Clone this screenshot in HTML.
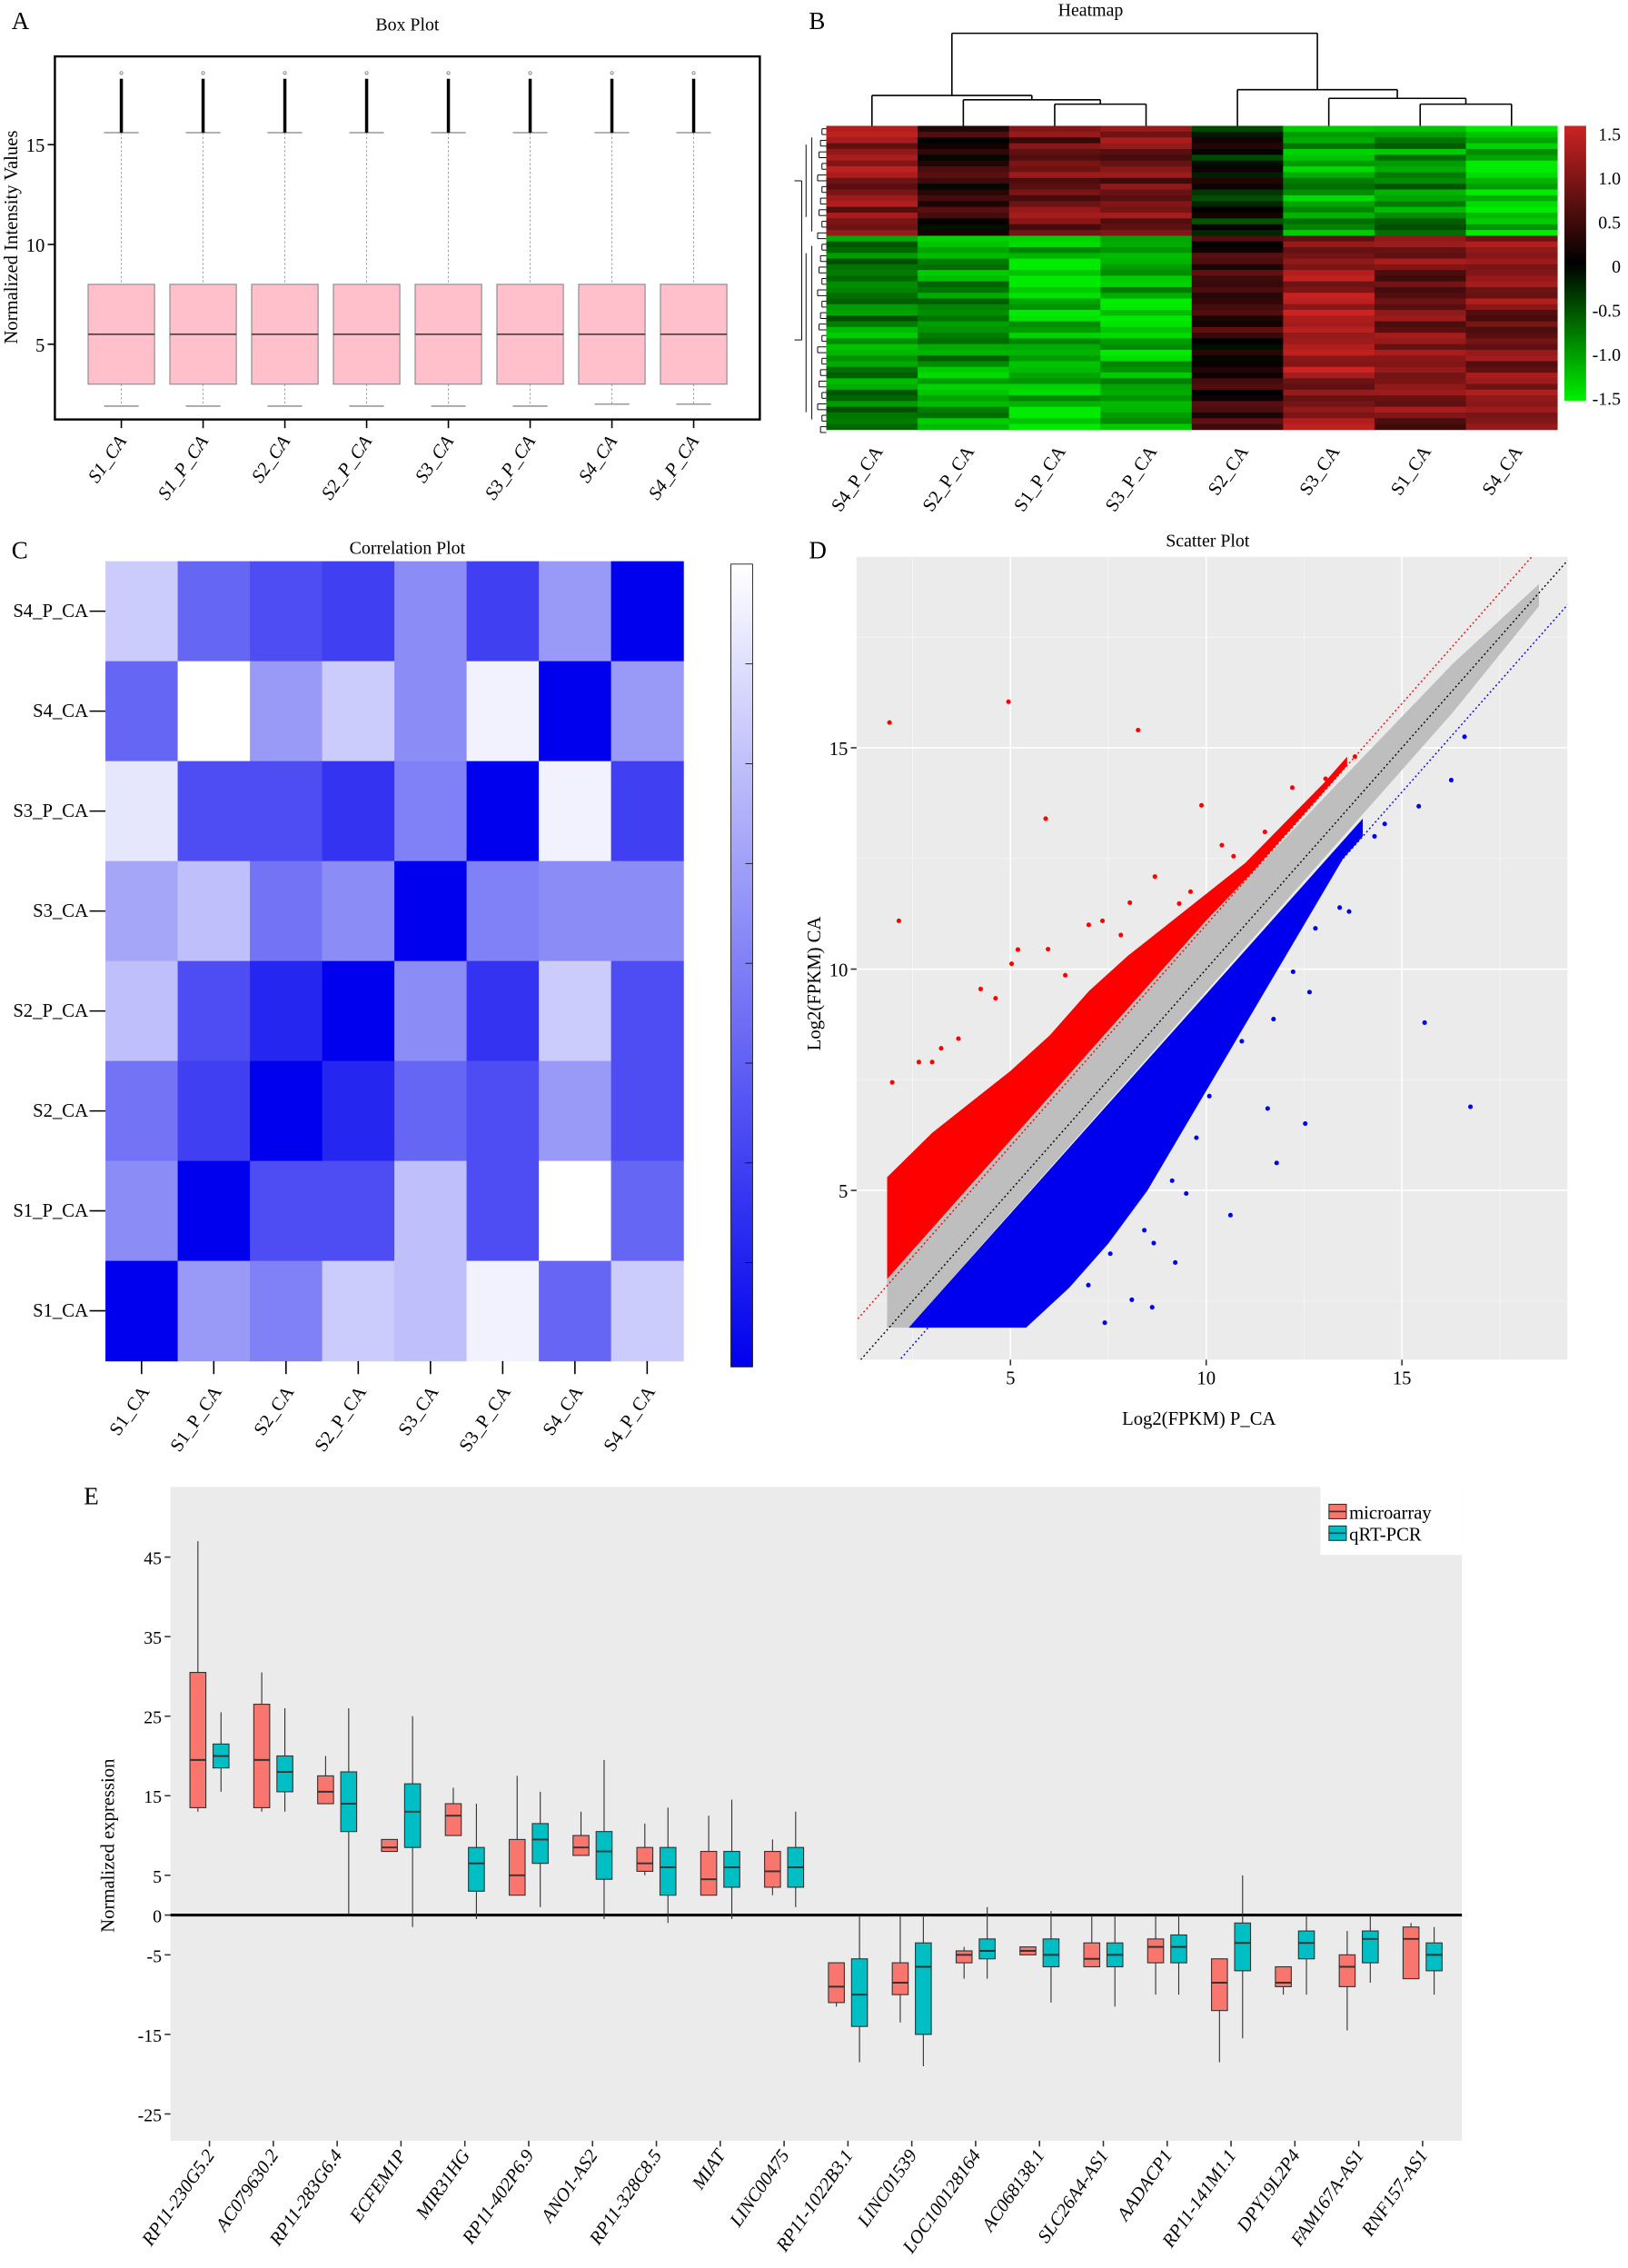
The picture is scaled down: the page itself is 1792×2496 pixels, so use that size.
<!DOCTYPE html>
<html><head><meta charset="utf-8"><style>
html,body{margin:0;padding:0;background:#fff;}
svg{display:block;font-family:"Liberation Serif",serif;}
</style></head><body>
<svg id="root" width="1792" height="2496" viewBox="0 0 1127 1568" preserveAspectRatio="none" xmlns="http://www.w3.org/2000/svg">
<rect width="1127" height="1568" fill="#fff"/>
<g id="pA"></g>
<g id="pB"></g>
<g id="pC"></g>
<g id="pD"></g>
<g id="pE"></g>
</svg>
<script>
const NS="http://www.w3.org/2000/svg";
function mk(p,t,a,txt){const e=document.createElementNS(NS,t);for(const k in a)e.setAttribute(k,a[k]);if(txt!==undefined)e.textContent=txt;p.appendChild(e);return e;}

// ---------- Panel A data ----------
const boxSamples=["S1_CA","S1_P_CA","S2_CA","S2_P_CA","S3_CA","S3_P_CA","S4_CA","S4_P_CA"];
const boxQ1=[3.0,3.0,3.0,3.0,3.0,3.0,3.0,3.0];
const boxMed=[5.5,5.5,5.5,5.5,5.5,5.5,5.5,5.5];
const boxQ3=[8.0,8.0,8.0,8.0,8.0,8.0,8.0,8.0];
const boxLo=[1.9,1.9,1.9,1.9,1.9,1.9,2.0,2.0];
const boxHi=[15.6,15.6,15.6,15.6,15.6,15.6,15.6,15.6];
const boxOutMax=[18.3,18.3,18.3,18.3,18.3,18.3,18.3,18.3];
const boxYTicks=[5,10,15];

// ---------- Panel B data ----------
const hmCols=["S4_P_CA","S2_P_CA","S1_P_CA","S3_P_CA","S2_CA","S3_CA","S1_CA","S4_CA"];
const hmTopMean=[1.0,0.25,0.8,0.85,-0.15,-1.1,-0.9,-1.3];
const hmBotMean=[-0.9,-1.0,-1.25,-1.2,0.3,1.1,0.85,0.9];
const hmRowNoise=[0.3,-0.2,0.1,0.4,-0.35,0.0,0.2,-0.1,0.35,-0.3,0.15,-0.25,0.05,0.3,-0.15,0.25,-0.4,0.1,-0.05,0.2,-0.3,0.4,-0.1,0.0,0.25,-0.2];
const hmScaleTicks=[1.5,1.0,0.5,0,-0.5,-1.0,-1.5];

// ---------- Panel C data ----------
const corRows=["S4_P_CA","S4_CA","S3_P_CA","S3_CA","S2_P_CA","S2_CA","S1_P_CA","S1_CA"];
const corCols=["S1_CA","S1_P_CA","S2_CA","S2_P_CA","S3_CA","S3_P_CA","S4_CA","S4_P_CA"];
const corR1=[.2,.6,.7,.75,.45,.75,.4,1];
const corR2=[.6,0,.4,.2,.45,.05,1,.4];
const corR3=[.1,.7,.7,.8,.5,1,.05,.75];
const corR4=[.35,.25,.55,.45,1,.5,.45,.45];
const corR5=[.25,.7,.85,1,.45,.8,.2,.7];
const corR6=[.55,.75,1,.85,.6,.7,.4,.7];
const corR7=[.45,1,.7,.7,.25,.7,0,.6];
const corR8=[1,.4,.5,.2,.25,.05,.6,.2];

// ---------- Panel D data ----------
const scXTicks=[5,10,15];
const scYTicks=[5,10,15];
const grayBandX=[1.85,1.85,10,16.3,18.5,18.5,16.3,10,2.4];
const grayBandY=[1.9,3.0,11.1,16.9,18.7,18.2,15.8,9.5,1.9];
const redCloudX=[1.85,1.85,3,4,5,6,7,8,9,10,11,12,13,13.6,13.6,1.85];
const redCloudY=[2.95,5.3,6.3,7.0,7.7,8.5,9.5,10.3,11.0,11.7,12.4,13.3,14.2,14.8,14.6,2.9];
const blueCloudX=[2.4,14,14,13.5,12.5,11.5,10.5,9.5,8.5,7.5,6.5,5.4];
const blueCloudY=[1.9,13.4,13.0,12.5,11.0,9.5,8.0,6.5,5.0,3.8,2.8,1.9];
const redOutX=[1.91,4.95,8.26,5.9,9.88,2.15,12.2,13.8,13.05,11.5,10.4,10.7,8.69,9.6,8.05,7.0,7.35,5.19,5.96,5.03,4.24,4.62,3.67,2.66,3.0,1.98,3.23,6.4,7.82,9.31,11.27];
const redOutY=[15.57,16.04,15.4,13.4,13.7,11.09,14.1,14.8,14.3,13.1,12.8,12.55,12.09,11.75,11.5,11.0,11.09,10.44,10.45,10.12,9.55,9.34,8.43,7.9,7.9,7.44,8.21,9.86,10.77,11.48,12.48];
const blueOutX=[16.6,16.26,15.43,15.58,16.75,11.57,12.53,11.8,10.62,12.64,13.41,13.65,12.22,11.72,10.91,10.08,9.75,9.49,8.66,9.21,8.62,7.41,8.1,6.99,7.55,8.42,8.12,9.13,8.38,10.2,12.79,14.3,14.56];
const blueOutY=[15.25,14.27,13.68,8.79,6.89,6.85,6.51,5.62,4.44,9.48,11.39,11.3,9.94,8.87,8.37,7.13,6.19,4.93,3.81,3.37,2.36,2.01,2.53,2.86,3.57,4.1,5.4,5.22,5.75,7.76,10.92,13.0,13.28];

// ---------- Panel E data ----------
const genes=["RP11-230G5.2","AC079630.2","RP11-283G6.4","ECFEM1P","MIR31HG","RP11-402P6.9","ANO1-AS2","RP11-328C8.5","MIAT","LINC00475","RP11-1022B3.1","LINC01539","LOC100128164","AC068138.1","SLC26A4-AS1","AADACP1","RP11-141M1.1","DPY19L2P4","FAM167A-AS1","RNF157-AS1"];
const maQ1=[13.5,13.5,14,8,10,2.5,7.5,5.5,2.5,3.5,-11,-10,-6,-5,-6.5,-6,-12,-9,-9,-8];
const maMed=[19.5,19.5,15.5,8.5,12.5,5,8.5,6.5,4.5,5.5,-9,-8.5,-5,-4.5,-5.5,-4,-8.5,-8.5,-6.5,-3];
const maQ3=[30.5,26.5,17.5,9.5,14,9.5,10,8.5,8,8,-6,-6,-4.5,-4,-3.5,-3,-5.5,-6.5,-5,-1.5];
const maLo=[13,13,14,8,10,2.5,7.5,5,2.5,2.5,-11.5,-13.5,-8,-5,-6.5,-10,-18.5,-10,-14.5,-8];
const maHi=[47,30.5,20,9.5,16,17.5,13,11.5,12.5,9.5,-6,0,-4,-4,0,0,-5.5,-6.5,-2,-1];
const pcQ1=[18.5,15.5,10.5,8.5,3,6.5,4.5,2.5,3.5,3.5,-14,-15,-5.5,-6.5,-6.5,-6,-7,-5.5,-6,-7];
const pcMed=[20,18,14,13,6.5,9.5,8,6,6,6,-10,-6.5,-4.5,-5,-5,-4,-3.5,-3.5,-3,-5];
const pcQ3=[21.5,20,18,16.5,8.5,11.5,10.5,8.5,8,8.5,-5.5,-3.5,-3,-3,-3.5,-2.5,-1,-2,-2,-3.5];
const pcLo=[15.5,13,0,-1.5,-0.5,1,-0.5,-1,-0.5,1,-18.5,-19,-8,-11,-11.5,-10,-15.5,-10,-8.5,-10];
const pcHi=[25.5,26,26,25,14,15.5,19.5,13.5,14.5,13,0,0,1,0.5,0,0,5,0,0,-1.5];
const eYTicks=[45,35,25,15,5,0,-5,-15,-25];

// ===== Panel A =====
(function(){
 const g=document.getElementById('pA');
 const y=v=>238-(v-5)*13.8;
 const x0=84,dx=56.6;
 mk(g,'text',{x:8,y:20,'font-size':17,},'A');
 mk(g,'text',{x:282,y:21,'font-size':12.5,'text-anchor':'middle',},'Box Plot');
 mk(g,'rect',{x:38,y:39,width:488,height:251,fill:'none',stroke:'#000','stroke-width':1.5,});
 boxYTicks.forEach(v=>{
  mk(g,'line',{x1:33,x2:38,y1:y(v),y2:y(v),stroke:'#000'});
  const t=mk(g,'text',{x:31,y:y(v)+5,'font-size':13,'text-anchor':'end'},String(v));
  
 });
 mk(g,'text',{x:0,y:0,'font-size':13,'text-anchor':'middle',transform:'translate(12,164) rotate(-90)',},'Normalized Intensity Values');
 boxSamples.forEach((s,i)=>{
  const cx=x0+i*dx;
  const bg=mk(g,'g',{});
  
  
  mk(bg,'line',{x1:cx,x2:cx,y1:y(boxHi[i]),y2:y(boxQ3[i]),stroke:'#999','stroke-dasharray':'1.5,1.5','stroke-width':0.6});
  mk(bg,'line',{x1:cx,x2:cx,y1:y(boxQ1[i]),y2:y(boxLo[i]),stroke:'#999','stroke-dasharray':'1.5,1.5','stroke-width':0.6});
  mk(bg,'line',{x1:cx-12,x2:cx+12,y1:y(boxHi[i]),y2:y(boxHi[i]),stroke:'#999'});
  mk(bg,'line',{x1:cx-12,x2:cx+12,y1:y(boxLo[i]),y2:y(boxLo[i]),stroke:'#999'});
  mk(bg,'line',{x1:cx,x2:cx,y1:y(boxOutMax[i]),y2:y(boxHi[i]),stroke:'#000','stroke-width':2.2});
  mk(bg,'circle',{cx:cx,cy:y(boxOutMax[i])-4,r:1,fill:'none',stroke:'#777','stroke-width':0.5});
  mk(bg,'rect',{x:cx-23,y:y(boxQ3[i]),width:46,height:y(boxQ1[i])-y(boxQ3[i]),fill:'#ffc0cb',stroke:'#888','stroke-width':0.7});
  mk(bg,'line',{x1:cx-23,x2:cx+23,y1:y(boxMed[i]),y2:y(boxMed[i]),stroke:'#333','stroke-width':1});
  mk(g,'line',{x1:cx,x2:cx,y1:290,y2:296,stroke:'#000'});
  const t=mk(g,'text',{x:0,y:0,'font-size':13,'font-style':'italic','text-anchor':'end',transform:`translate(${cx+4},${305}) rotate(-55)`},s);
  
 });
})();

// ===== Panel B =====
(function(){
 const g=document.getElementById('pB');
 mk(g,'text',{x:560,y:20,'font-size':17,},'B');
 mk(g,'text',{x:755,y:11,'font-size':12.5,'text-anchor':'middle',},'Heatmap');
 const X0=572,W=63.25,yTop=87,yMid=163,yBot=297;
 function col(v){v=Math.max(-1.5,Math.min(1.5,v));
  if(v>=0){const f=v/1.5;return `rgb(${Math.round(205*f)},${Math.round(35*f)},${Math.round(35*f)})`;}
  const f=-v/1.5;return `rgb(0,${Math.round(235*f)},0)`;}
 const nTop=19,nBot=34;
 const rh1=(yMid-yTop)/nTop, rh2=(yBot-yMid)/nBot;
 hmCols.forEach((c,j)=>{
  for(let r=0;r<nTop;r++){
   const v=hmTopMean[j]+hmRowNoise[(r*3+j*5)%hmRowNoise.length];
   const e=mk(g,'rect',{x:X0+j*W,y:yTop+r*rh1,width:W+0.3,height:rh1+0.3,fill:col(v)});
   
  }
  for(let r=0;r<nBot;r++){
   const v=hmBotMean[j]+hmRowNoise[(r*7+j*3+1)%hmRowNoise.length];
   const e=mk(g,'rect',{x:X0+j*W,y:yMid+r*rh2,width:W+0.3,height:rh2+0.3,fill:col(v)});
   
  }
  const cx=X0+j*W+W/2;
  const t=mk(g,'text',{x:0,y:0,'font-size':13,'text-anchor':'end',transform:`translate(${cx+8},${312}) rotate(-55)`},c);
  
 });
 const cxs=hmCols.map((c,j)=>X0+j*W+W/2);
 const d=mk(g,'g',{stroke:'#000','stroke-width':1,fill:'none',});
 const seg=(x1,y1,x2,y2)=>mk(d,'line',{x1,y1,x2,y2});
 const u=(xa,ya,xb,yb,yt)=>{seg(xa,ya,xa,yt);seg(xb,yb,xb,yt);seg(xa,yt,xb,yt);return [(xa+xb)/2,yt];};
 const a34=u(cxs[2],yTop,cxs[3],yTop,72);
 const a234=u(cxs[1],yTop,a34[0],72,69);
 const aL=u(cxs[0],yTop,a234[0],69,66);
 const a78=u(cxs[6],yTop,cxs[7],yTop,72);
 const a678=u(cxs[5],yTop,a78[0],72,68);
 const aR=u(cxs[4],yTop,a678[0],68,62);
 u(aL[0],66,aR[0],62,23);
 const ld=mk(g,'g',{stroke:'#000','stroke-width':0.6,fill:'none',});
 for(let r=0;r<nTop+nBot;r+=2){
  const yy=r<nTop?yTop+r*rh1+rh1:yMid+(r-nTop)*rh2+rh2;
  const depth=[3,6,4,9,5,7,3,10,6,4][r%10];
  mk(ld,'line',{x1:572-depth,y1:yy-2,x2:572,y2:yy-2});
  mk(ld,'line',{x1:572-depth,y1:yy-2,x2:572-depth,y2:yy+2});
  mk(ld,'line',{x1:572-depth,y1:yy+2,x2:572,y2:yy+2});
 }
 mk(ld,'line',{x1:562,y1:95,x2:562,y2:160});mk(ld,'line',{x1:558,y1:100,x2:558,y2:150});
 mk(ld,'line',{x1:562,y1:170,x2:562,y2:290});mk(ld,'line',{x1:558,y1:175,x2:558,y2:285});
 mk(ld,'line',{x1:555,y1:125,x2:555,y2:235});
 mk(ld,'line',{x1:550,y1:125,x2:555,y2:125});mk(ld,'line',{x1:550,y1:235,x2:555,y2:235});
 const gr=mk(g,'defs',{});
 const lg=mk(gr,'linearGradient',{id:'hmg',x1:0,y1:0,x2:0,y2:1});
 [[0,'rgb(205,35,35)'],[0.5,'#000'],[1,'rgb(0,240,0)']].forEach(s=>mk(lg,'stop',{offset:s[0],'stop-color':s[1]}));
 mk(g,'rect',{x:1083,y:87,width:15,height:190,fill:'url(#hmg)',});
 hmScaleTicks.forEach(v=>{
  const yy=87+ (1.5-v)/3*183+6;
  const t=mk(g,'text',{x:1122,y:yy+4,'font-size':12.5,'text-anchor':'end'},String(v===0?'0':(Number.isInteger(v)?v.toFixed(1):v)));
  
 });
})();

// ===== Panel C =====
(function(){
 const g=document.getElementById('pC');
 mk(g,'text',{x:8,y:386,'font-size':17,},'C');
 mk(g,'text',{x:282,y:383,'font-size':12.5,'text-anchor':'middle',},'Correlation Plot');
 const rows=[corR1,corR2,corR3,corR4,corR5,corR6,corR7,corR8];
 const X0=73,Y0=388,W=50,H=69.1;
 const c=v=>`rgb(${Math.round(255*(1-v))},${Math.round(255*(1-v))},${Math.round(255-17*v)})`;
 rows.forEach((r,i)=>{
  r.forEach((v,j)=>{
   const e=mk(g,'rect',{x:X0+j*W,y:Y0+i*H,width:W+0.4,height:H+0.4,fill:c(v)});
   
  });
  const yy=Y0+i*H+H/2;
  mk(g,'line',{x1:62,x2:73,y1:yy,y2:yy,stroke:'#000'});
  const t=mk(g,'text',{x:61,y:yy+4,'font-size':13,'text-anchor':'end'},corRows[i]);
  
 });
 corCols.forEach((s,j)=>{
  const cx=X0+j*W+W/2;
  mk(g,'line',{x1:cx,x2:cx,y1:941,y2:950,stroke:'#000'});
  const t=mk(g,'text',{x:0,y:0,'font-size':13,'text-anchor':'end',transform:`translate(${cx+6},${962}) rotate(-55)`},s);
  
 });
 const df=mk(g,'defs',{});
 const lg=mk(df,'linearGradient',{id:'cg',x1:0,y1:0,x2:0,y2:1});
 mk(lg,'stop',{offset:0,'stop-color':'#fff'});mk(lg,'stop',{offset:1,'stop-color':'#0000ee'});
 mk(g,'rect',{x:506,y:390,width:15,height:555,fill:'url(#cg)',stroke:'#000','stroke-width':0.5,});
 for(let k=1;k<8;k++){mk(g,'line',{x1:516,x2:521,y1:390+k*69,y2:390+k*69,stroke:'#000','stroke-width':0.5});}
})();

// ===== Panel D =====
(function(){
 const g=document.getElementById('pD');
 mk(g,'text',{x:560,y:386,'font-size':17,},'D');
 mk(g,'text',{x:836,y:378,'font-size':12.5,'text-anchor':'middle',},'Scatter Plot');
 const L=593,R=1085,T=385,B=940;
 const x=v=>564+v*27.1, y=v=>976-v*30.6;
 mk(g,'rect',{x:L,y:T,width:R-L,height:B-T,fill:'#ebebeb',});
 const cl=mk(g,'clipPath',{id:'dclip'});mk(cl,'rect',{x:L,y:T,width:R-L,height:B-T});
 const pg=mk(g,'g',{'clip-path':'url(#dclip)'});
 [2.5,7.5,12.5,17.5].forEach(v=>{mk(pg,'line',{x1:x(v),x2:x(v),y1:T,y2:B,stroke:'#f7f7f7','stroke-width':0.5});mk(pg,'line',{x1:L,x2:R,y1:y(v),y2:y(v),stroke:'#f7f7f7','stroke-width':0.5});});
 scXTicks.forEach(v=>mk(pg,'line',{x1:x(v),x2:x(v),y1:T,y2:B,stroke:'#fff','stroke-width':1}));
 scYTicks.forEach(v=>mk(pg,'line',{x1:L,x2:R,y1:y(v),y2:y(v),stroke:'#fff','stroke-width':1}));
 const poly=(xs,ys,fill,name)=>{const e=mk(pg,'polygon',{points:xs.map((v,i)=>x(v)+','+y(ys[i])).join(' '),fill:fill});};
 poly(redCloudX,redCloudY,'#ff0000','up-regulated-cloud');
 poly(blueCloudX,blueCloudY,'#0000ee','down-regulated-cloud');
 poly(grayBandX,grayBandY,'#bebebe','unchanged-band');
 redOutX.forEach((v,i)=>{const e=mk(pg,'circle',{cx:x(v),cy:y(redOutY[i]),r:1.6,fill:'#ff0000'});});
 blueOutX.forEach((v,i)=>{const e=mk(pg,'circle',{cx:x(v),cy:y(blueOutY[i]),r:1.6,fill:'#0000ee'});});
 mk(pg,'line',{x1:x(0),y1:y(0),x2:x(20),y2:y(20),stroke:'#000','stroke-dasharray':'1.2,1.8','stroke-width':0.9,});
 mk(pg,'line',{x1:x(0),y1:y(1),x2:x(20),y2:y(21),stroke:'#ff0000','stroke-dasharray':'1.2,1.8','stroke-width':0.9,});
 mk(pg,'line',{x1:x(0),y1:y(-1),x2:x(20),y2:y(19),stroke:'#0000ee','stroke-dasharray':'1.2,1.8','stroke-width':0.9,});
 scXTicks.forEach(v=>{mk(g,'line',{x1:x(v),x2:x(v),y1:B,y2:B+4,stroke:'#333'});const t=mk(g,'text',{x:x(v),y:B+17,'font-size':13,'text-anchor':'middle'},String(v));});
 scYTicks.forEach(v=>{mk(g,'line',{x1:L-4,x2:L,y1:y(v),y2:y(v),stroke:'#333'});const t=mk(g,'text',{x:L-6,y:y(v)+5,'font-size':13,'text-anchor':'end'},String(v));});
 mk(g,'text',{x:830,y:985,'font-size':13,'text-anchor':'middle',},'Log2(FPKM) P_CA');
 mk(g,'text',{x:0,y:0,'font-size':13,'text-anchor':'middle',transform:'translate(568,680) rotate(-90)',},'Log2(FPKM) CA');
})();

// ===== Panel E =====
(function(){
 const g=document.getElementById('pE');
 mk(g,'text',{x:58,y:1040,'font-size':17,},'E');
 const L=118,R=1012,T=1028,B=1480;
 const y=v=>1324-v*5.5;
 const cx=i=>145+i*44.2;
 mk(g,'rect',{x:L,y:T,width:R-L,height:B-T,fill:'#ebebeb',});
 eYTicks.forEach(v=>{mk(g,'line',{x1:L-4,x2:L,y1:y(v),y2:y(v),stroke:'#333'});const t=mk(g,'text',{x:L-6,y:y(v)+5,'font-size':12.5,'text-anchor':'end'},String(v));});
 mk(g,'text',{x:0,y:0,'font-size':13,'text-anchor':'middle',transform:'translate(79,1276) rotate(-90)',},'Normalized expression');
 mk(g,'line',{x1:L,x2:R,y1:y(0),y2:y(0),stroke:'#000','stroke-width':2,});
 function box(c,q1,md,q3,lo,hi,fill,name){
  const bg=mk(g,'g',{});
  
  
  mk(bg,'line',{x1:c,x2:c,y1:y(hi),y2:y(lo),stroke:'#333','stroke-width':0.7});
  mk(bg,'rect',{x:c-5.5,y:y(q3),width:11,height:Math.max(1,y(q1)-y(q3)),fill:fill,stroke:'#333','stroke-width':0.7});
  mk(bg,'line',{x1:c-5.5,x2:c+5.5,y1:y(md),y2:y(md),stroke:'#333','stroke-width':1.2});
 }
 genes.forEach((gn,i)=>{
  box(cx(i)-8,maQ1[i],maMed[i],maQ3[i],maLo[i],maHi[i],'#f8766d','microarray-box');
  box(cx(i)+8,pcQ1[i],pcMed[i],pcQ3[i],pcLo[i],pcHi[i],'#00bfc4','qrt-pcr-box');
  mk(g,'line',{x1:cx(i),x2:cx(i),y1:B,y2:B+4,stroke:'#333'});
  const t=mk(g,'text',{x:0,y:0,'font-size':13,'font-style':'italic','text-anchor':'end',transform:`translate(${cx(i)+4},${1490}) rotate(-55)`},gn);
  
 });
 const lgd=mk(g,'g',{});
 mk(lgd,'rect',{x:914,y:1028,width:98,height:47,fill:'#fff'});
 [['microarray','#f8766d',1046],['qRT-PCR','#00bfc4',1061]].forEach(l=>{
  const e=mk(lgd,'g',{});
  
  mk(e,'rect',{x:920,y:l[2]-6,width:12,height:10,fill:l[1],stroke:'#333','stroke-width':0.7});
  mk(e,'line',{x1:920,x2:932,y1:l[2]-1,y2:l[2]-1,stroke:'#333'});
  mk(e,'text',{x:934,y:l[2]+4,'font-size':13},l[0]);
 });
})();
</script>
</body></html>
